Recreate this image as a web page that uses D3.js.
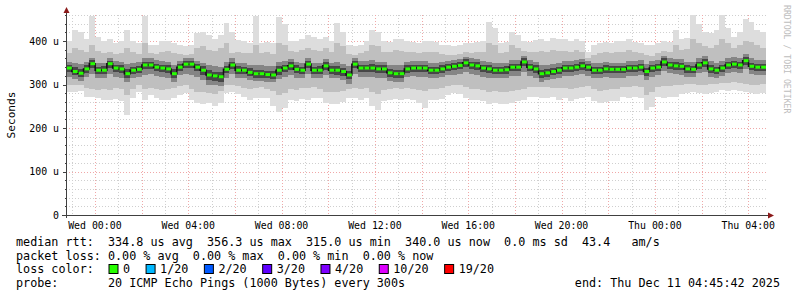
<!DOCTYPE html>
<html>
<head>
<meta charset="utf-8">
<script src="https://cdn.jsdelivr.net/npm/d3@7"></script>
<style>
  body { margin: 0; background: #fff; }
  svg { display: block; }
  text { font-family: "DejaVu Sans Mono", monospace; white-space: pre; }
</style>
</head>
<body>
<script>
// smokeping graph, 30 hours, values in microseconds, 15 min per step
var startTime = new Date(2025, 11, 9, 22, 45, 42);
var endTime = new Date(2025, 11, 11, 4, 45, 42);
var stepMinutes = 15;

var median = [
  338,330,326,336,348,333,333,348,338,336,
  325,333,335,345,345,340,338,336,325,340,
  347,347,340,333,322,320,318,335,345,333,
  333,328,325,325,323,322,333,338,343,335,
  333,347,333,333,343,333,333,330,322,347,
  338,338,338,336,336,327,325,325,336,338,
  338,338,333,333,336,340,342,344,350,345,
  343,338,336,333,333,334,340,340,352,340,
  336,325,327,330,333,338,338,340,343,340,
  333,333,336,335,335,335,338,338,340,330,
  338,340,352,345,343,342,336,335,345,350,
  336,333,338,345,347,345,355,342,340,340];

var pingMax = [
  400,425,420,405,458,410,400,405,395,400,
  425,400,395,458,392,390,400,400,395,390,
  388,390,418,420,415,405,415,441,420,402,
  400,395,458,395,398,395,455,440,400,400,
  405,413,410,405,410,400,441,420,390,388,
  392,400,425,420,400,398,405,405,400,398,
  395,400,400,398,392,390,388,390,395,395,
  398,400,443,430,395,398,420,415,400,398,
  402,405,400,408,405,405,400,405,400,375,
  390,395,398,395,400,400,405,398,395,390,
  390,395,400,398,425,405,408,460,440,420,
  418,425,460,430,410,420,450,445,425,420];

var pingMin = [
  283,283,285,271,272,268,264,264,266,262,
  230,270,283,265,275,268,264,264,270,275,
  280,265,258,256,257,250,258,280,282,278,
  272,264,268,270,268,250,237,245,264,262,
  266,265,268,270,258,256,255,260,268,270,
  265,268,250,241,262,264,266,264,266,264,
  258,247,264,264,266,275,280,278,270,264,
  264,262,256,258,256,255,258,262,264,271,
  272,270,268,272,265,268,262,266,270,271,
  262,258,260,262,262,271,270,272,268,241,
  248,271,270,272,271,278,280,282,280,278,
  280,282,287,286,288,286,282,280,278,280];

var upper2 = [
  372,385,380,375,390,378,372,375,370,372,
  385,375,370,395,372,370,375,378,372,370,
  368,370,385,388,380,378,385,395,372,375,
  372,372,390,372,375,370,395,392,378,375,
  380,385,380,378,385,376,395,388,370,368,
  372,378,392,388,376,375,380,378,376,374,
  372,376,375,374,370,368,368,370,374,372,
  375,376,395,390,372,374,390,385,378,374,
  376,378,376,380,378,378,376,380,376,362,
  368,372,374,372,376,376,380,375,372,368,
  366,372,378,376,392,380,382,405,395,388,
  385,390,405,395,385,392,400,398,390,385];

var lower2 = [
  300,298,300,292,290,288,290,288,292,290,
  275,290,298,290,292,290,288,290,292,296,
  298,290,284,282,280,278,285,298,300,296,
  292,290,292,294,290,285,275,280,290,288,
  292,292,294,290,284,282,282,286,290,292,
  290,292,282,278,288,290,292,290,292,290,
  288,285,290,290,292,296,298,298,294,290,
  290,288,284,285,284,283,285,288,290,294,
  295,294,294,292,292,292,290,292,294,296,
  290,286,288,290,290,295,294,296,294,275,
  282,294,296,296,298,300,302,302,300,300,
  302,302,304,304,306,304,302,300,300,302];

var upper3 = [
  352,350,348,352,362,350,350,362,355,352,
  348,350,352,360,360,356,354,352,345,355,
  360,360,355,350,345,342,340,352,360,350,
  350,346,344,344,342,342,352,355,358,352,
  350,362,350,350,358,350,352,348,342,362,
  354,355,356,352,352,345,344,344,352,354,
  354,354,350,350,352,355,357,358,364,360,
  358,354,352,350,350,350,356,356,365,356,
  352,345,346,348,350,354,354,356,358,355,
  350,350,352,350,350,350,354,354,356,348,
  354,356,366,360,358,358,352,352,362,365,
  354,350,355,362,364,362,370,360,356,356];

var lower3 = [
  318,312,308,318,325,315,315,325,318,316,
  305,315,318,322,325,320,318,316,305,322,
  325,322,318,310,300,298,296,315,325,316,
  316,310,308,308,305,305,312,318,322,316,
  315,325,315,315,322,315,314,310,302,325,
  318,318,318,316,316,308,306,306,318,320,
  318,318,315,315,318,322,322,325,330,325,
  322,318,316,315,315,316,320,320,330,320,
  316,306,310,312,315,320,320,322,325,320,
  316,315,318,316,316,316,320,320,322,310,
  318,322,332,326,324,322,318,318,326,330,
  318,316,320,326,328,326,335,325,322,322];

var upper4 = [
  346,340,336,344,356,341,342,355,346,344,
  336,341,343,353,353,348,346,344,335,348,
  354,354,348,342,333,330,328,343,353,342,
  341,337,334,334,332,331,342,346,351,344,
  341,355,341,342,351,342,342,339,332,355,
  346,346,347,344,344,336,334,334,344,346,
  346,346,341,341,344,348,350,352,358,353,
  351,346,344,341,341,342,348,348,360,348,
  344,334,336,339,341,346,346,348,351,348,
  341,341,344,343,343,343,346,346,348,339,
  346,348,360,353,351,350,344,343,353,358,
  344,341,346,353,355,353,363,350,348,348];

var lower4 = [
  329,321,317,327,338,324,324,338,329,327,
  315,324,326,335,336,331,329,327,315,331,
  337,337,331,323,311,309,307,326,335,324,
  324,319,316,316,314,313,323,329,333,326,
  324,337,324,324,333,324,323,320,312,337,
  329,329,329,327,327,318,316,316,327,329,
  329,329,324,324,327,331,333,335,340,336,
  334,329,327,324,324,325,331,331,342,331,
  327,316,318,321,324,329,329,331,334,331,
  324,324,327,326,326,326,329,329,331,320,
  329,331,342,336,334,333,327,326,336,340,
  327,324,329,336,338,336,345,333,331,331];

var yTicks = [0, 100, 200, 300, 400];
var yTickLabels = ["0", "100 u", "200 u", "300 u", "400 u"];

var lossLabels = ["0", "1/20", "2/20", "3/20", "4/20", "10/20", "19/20"];
var lossColors = ["#26ff00", "#00b8ff", "#0059ff", "#5e00ff", "#7e00ff", "#dd00ff", "#ff0000"];

var legendLines = [
  "median rtt:  334.8 us avg  356.3 us max  315.0 us min  340.0 us now  0.0 ms sd  43.4   am/s",
  "packet loss: 0.00 % avg  0.00 % max  0.00 % min  0.00 % now",
  "loss color:",
  "probe:       20 ICMP Echo Pings (1000 Bytes) every 300s"
];
var endLabel = "end: Thu Dec 11 04:45:42 2025";

var W = 797, H = 297;
var pLeft = 66, pRight = 766, pTop = 15, pBottom = 215;

var svg = d3.select("body").append("svg")
  .attr("width", W).attr("height", H);

var x = d3.scaleTime().domain([startTime, endTime]).range([pLeft, pRight]);
var y = d3.scaleLinear().domain([0, 460]).range([pBottom, pTop]);

// one point per step, plus a closing point at the end
var pts = median.map(function(d, i) {
  return {
    t: d3.timeMinute.offset(startTime, i * stepMinutes),
    med: d, max: pingMax[i], min: pingMin[i],
    u2: upper2[i], l2: lower2[i], u3: upper3[i], l3: lower3[i],
    u4: upper4[i], l4: lower4[i]
  };
});
var last = Object.assign({}, pts[pts.length - 1]);
last.t = endTime;
var ptsEnd = pts.concat([last]);

// grid
var grid = svg.append("g");
d3.range(20, 461, 20).forEach(function(v) {
  grid.append("line")
    .attr("x1", pLeft).attr("x2", pRight + 2)
    .attr("y1", Math.round(y(v)) + 0.5).attr("y2", Math.round(y(v)) + 0.5)
    .attr("stroke", v % 100 === 0 ? "#f0a8a8" : "#cfcfcf")
    .attr("stroke-dasharray", "1,2");
});
var hours = d3.timeHour.range(startTime, endTime);
hours.forEach(function(h) {
  var xx = Math.round(x(h)) + 0.5;
  grid.append("line")
    .attr("x1", xx).attr("x2", xx)
    .attr("y1", pTop).attr("y2", pBottom)
    .attr("stroke", h.getHours() % 2 === 0 ? "#f0a8a8" : "#cfcfcf")
    .attr("stroke-dasharray", "1,2");
});

// smoke
function band(hi, lo, color) {
  svg.append("path")
    .datum(ptsEnd)
    .attr("fill", color)
    .attr("shape-rendering", "crispEdges")
    .attr("d", d3.area().curve(d3.curveStepAfter)
      .x(function(d) { return x(d.t); })
      .y0(function(d) { return y(d[lo]); })
      .y1(function(d) { return y(d[hi]); }));
}
band("max", "min", "#dddddd");
band("u2", "l2", "#bfbfbf");
band("u3", "l3", "#858585");
band("u4", "l4", "#474747");

// median
svg.append("path")
  .datum(ptsEnd)
  .attr("fill", "none")
  .attr("stroke", "#111")
  .attr("stroke-width", 1.5)
  .attr("d", d3.line().curve(d3.curveStepAfter)
    .x(function(d) { return x(d.t); })
    .y(function(d) { return y(d.med); }));
svg.selectAll("rect.med").data(pts).enter().append("rect")
  .attr("class", "med")
  .attr("x", function(d) { return x(d.t) + 1; })
  .attr("width", function(d) { return x(d3.timeMinute.offset(d.t, stepMinutes)) - x(d.t) - 1; })
  .attr("y", function(d) { return y(d.med) - 1.5; })
  .attr("height", 3)
  .attr("fill", lossColors[0]);

// axes
var axisColor = "#404040";
svg.append("line").attr("x1", pLeft + 0.5).attr("x2", pLeft + 0.5)
  .attr("y1", pBottom + 3).attr("y2", pTop - 3).attr("stroke", axisColor);
svg.append("line").attr("x1", pLeft - 4).attr("x2", pRight + 3)
  .attr("y1", pBottom + 0.5).attr("y2", pBottom + 0.5).attr("stroke", axisColor);
svg.append("path").attr("fill", "#8b1a1a")
  .attr("d", "M" + (pLeft - 2.5) + "," + (pTop - 2) + "L" + (pLeft + 0.5) + "," + (pTop - 8) + "L" + (pLeft + 3.5) + "," + (pTop - 2) + "Z");
svg.append("path").attr("fill", "#8b1a1a")
  .attr("d", "M" + (pRight + 2) + "," + (pBottom - 2.5) + "L" + (pRight + 8) + "," + (pBottom + 0.5) + "L" + (pRight + 2) + "," + (pBottom + 3.5) + "Z");

d3.range(20, 461, 20).forEach(function(v) {
  svg.append("line")
    .attr("x1", v % 100 === 0 ? pLeft - 3 : pLeft - 1).attr("x2", pLeft)
    .attr("y1", Math.round(y(v)) + 0.5).attr("y2", Math.round(y(v)) + 0.5)
    .attr("stroke", axisColor);
});

svg.selectAll("text.ytick").data(yTicks).enter().append("text")
  .attr("class", "ytick")
  .attr("x", 59).attr("y", function(d) { return y(d) + 3.5; })
  .attr("text-anchor", "end")
  .attr("font-size", "9.9px")
  .text(function(d, i) { return yTickLabels[i]; });

var fmt = d3.timeFormat("%a %H:%M");
svg.selectAll("text.xtick").data(hours.filter(function(h) { return h.getHours() % 4 === 0; }))
  .enter().append("text")
  .attr("class", "xtick")
  .attr("x", function(d) { return x(d); }).attr("y", 228.5)
  .attr("text-anchor", "middle")
  .attr("font-size", "9.9px")
  .text(fmt);

svg.append("text")
  .attr("transform", "translate(14.5,115) rotate(-90)")
  .attr("text-anchor", "middle")
  .attr("font-size", "11.1px")
  .text("Seconds");

svg.append("text")
  .attr("transform", "translate(783.5,5) rotate(90)")
  .attr("font-size", "8.2px")
  .attr("fill", "#bdbdbd")
  .text("RRDTOOL / TOBI OETIKER");

// legend
var legendFont = "11.75px";
var legendY = [246, 259.5, 273, 286.5];
legendLines.forEach(function(s, i) {
  svg.append("text").attr("x", 16).attr("y", legendY[i])
    .attr("font-size", legendFont).text(s);
});
svg.append("text").attr("x", 780).attr("y", legendY[3])
  .attr("text-anchor", "end").attr("font-size", legendFont).text(endLabel);

var lx = 108.5;
lossLabels.forEach(function(lab, i) {
  svg.append("rect").attr("x", lx + 0.5).attr("y", 264.5)
    .attr("width", 9).attr("height", 9)
    .attr("fill", lossColors[i]).attr("stroke", "#000");
  var t = svg.append("text").attr("x", lx + 14.5).attr("y", legendY[2])
    .attr("font-size", legendFont).text(lab);
  lx += 14.5 + t.node().getComputedTextLength() + 15.5;
});
</script>
</body>
</html>
